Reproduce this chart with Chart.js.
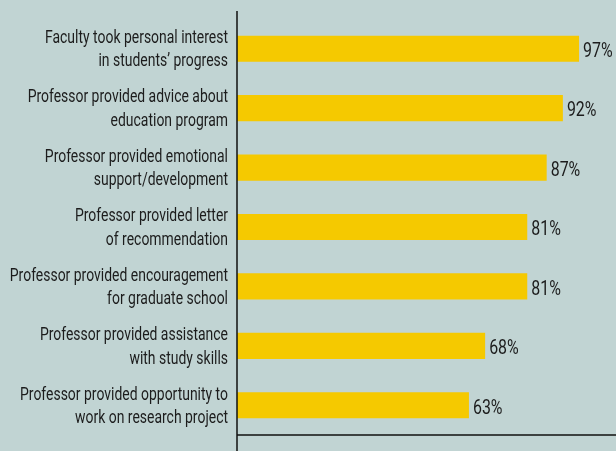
<!DOCTYPE html>
<html>
<head>
<meta charset="utf-8">
<script src="https://cdn.jsdelivr.net/npm/chart.js@4/dist/chart.umd.min.js"></script>
<style>
  html, body { margin: 0; padding: 0; background: #c1d4d3; }
  #wrap { width: 616px; height: 451px; position: relative; }
</style>
</head>
<body>
<div id="wrap"><canvas id="c"></canvas></div>
<script>
// Share of respondents reporting each kind of faculty support.
const categories = [
  ["Faculty took personal interest", "in students\u2019 progress"],
  ["Professor provided advice about", "education program"],
  ["Professor provided emotional", "support/development"],
  ["Professor provided letter", "of recommendation"],
  ["Professor provided encouragement", "for graduate school"],
  ["Professor provided assistance", "with study skills"],
  ["Professor provided opportunity to", "work on research project"],
];
const percents = [97, 92, 87, 81, 81, 68, 63];

const FONT = "Roboto, 'Liberation Sans', sans-serif";
const INK = "#1c1c1c";
const BAR = "#f5c900";
const AXIS_MIN = -8.6;

// The original face is a tall condensed grotesque; squeeze a regular one to match.
function squeeze(ctx, sample, targetWidth) {
  return targetWidth / ctx.measureText(sample).width;
}

// category labels, right-aligned against the axis, two lines each
const categoryLabels = {
  id: "categoryLabels",
  afterDraw(chart) {
    const { ctx } = chart;
    const y = chart.scales.y;
    ctx.save();
    ctx.font = `19px ${FONT}`;
    ctx.fillStyle = INK;
    ctx.textAlign = "right";
    ctx.textBaseline = "alphabetic";
    const sx = squeeze(ctx, "Faculty took personal interest", 183);
    categories.forEach((lines, i) => {
      const cy = y.getPixelForValue(i);
      ctx.save();
      ctx.translate(228, cy);
      ctx.scale(sx, 1);
      ctx.fillText(lines[0], 0, -5.7);
      ctx.fillText(lines[1], 0, 17.7);
      ctx.restore();
    });
    ctx.restore();
  },
};

// value labels just past the bar tips
const valueLabels = {
  id: "valueLabels",
  afterDatasetsDraw(chart) {
    const { ctx } = chart;
    const meta = chart.getDatasetMeta(0);
    ctx.save();
    ctx.font = `20px ${FONT}`;
    ctx.fillStyle = INK;
    ctx.textAlign = "left";
    ctx.textBaseline = "alphabetic";
    const sx = squeeze(ctx, "97%", 29.6);
    meta.data.forEach((bar, i) => {
      ctx.save();
      ctx.translate(bar.x + 4, bar.y);
      ctx.scale(sx, 1);
      ctx.fillText(percents[i] + "%", 0, 8.3);
      ctx.restore();
    });
    ctx.restore();
  },
};

// the axis lines: the vertical one runs past the plot at both ends
const axisLines = {
  id: "axisLines",
  afterDraw(chart) {
    const { ctx, chartArea: a } = chart;
    ctx.save();
    ctx.strokeStyle = "#111";
    ctx.lineWidth = 1.5;
    ctx.beginPath();
    ctx.moveTo(a.left, a.top - 8);
    ctx.lineTo(a.left, chart.height);
    ctx.moveTo(a.left, a.bottom);
    ctx.lineTo(chart.width, a.bottom);
    ctx.stroke();
    ctx.restore();
  },
};

new Chart(document.getElementById("c"), {
  type: "bar",
  data: {
    labels: categories,
    datasets: [{
      data: percents,
      base: AXIS_MIN,
      backgroundColor: BAR,
      borderWidth: 0,
      barPercentage: 0.88,
      categoryPercentage: 0.5,
    }],
  },
  options: {
    indexAxis: "y",
    responsive: true,
    maintainAspectRatio: false,
    animation: false,
    layout: { padding: { top: 19, bottom: 16, left: 0, right: 0 } },
    plugins: { legend: { display: false }, tooltip: { enabled: false } },
    scales: {
      x: {
        display: false,
        min: AXIS_MIN,
        max: 108.4,
      },
      y: {
        grid: { display: false, drawTicks: false },
        border: { display: false },
        ticks: { display: false },
        afterFit(scale) { scale.width = 237; },
      },
    },
  },
  plugins: [valueLabels, axisLines, categoryLabels],
});
</script>
</body>
</html>
